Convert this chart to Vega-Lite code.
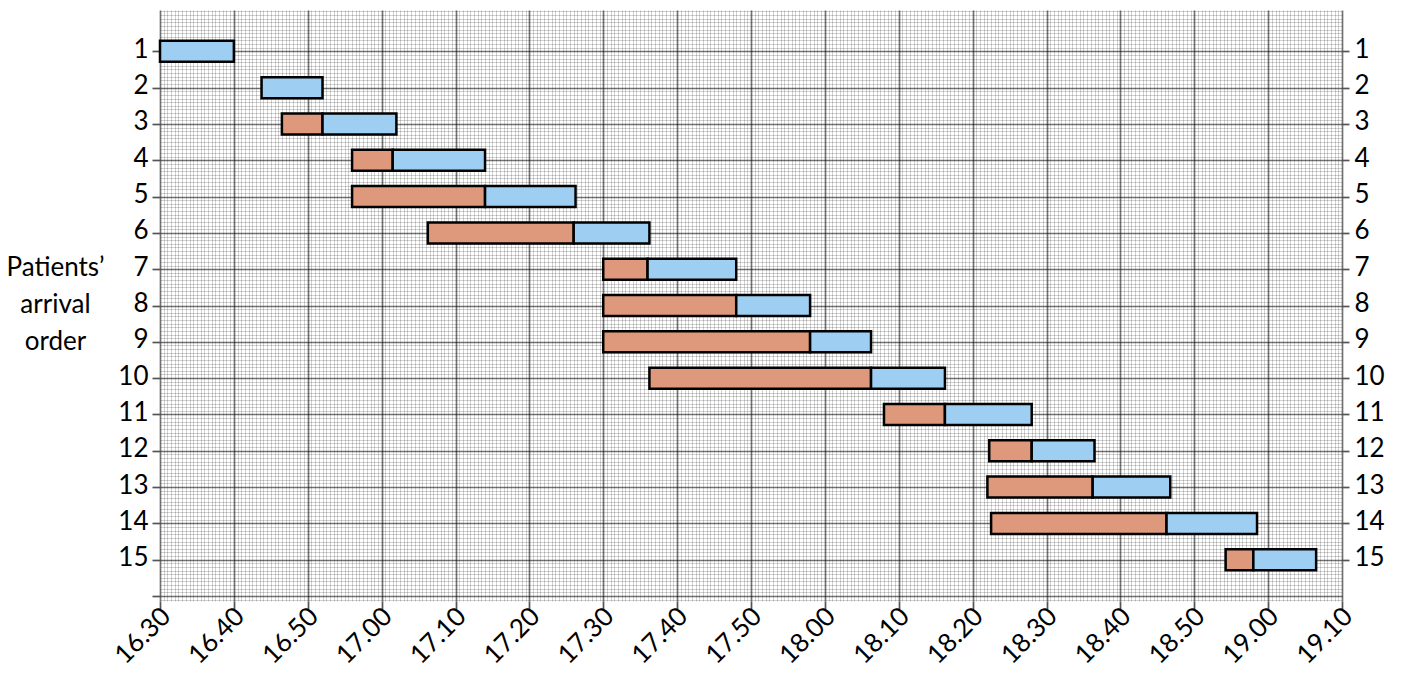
{
  "$schema": "https://vega.github.io/schema/vega-lite/v6.json",
  "autosize": {"type": "none"},
  "padding": {"left": 160, "top": 10, "right": 59, "bottom": 81},
  "width": 1182,
  "height": 591,
  "background": "white",
  "config": {"view": {"stroke": null}},
  "data": {"values": [
    {"patient": 1, "phase": "Consultation", "start": 0, "end": 10},
    {"patient": 2, "phase": "Consultation", "start": 13.75, "end": 22},
    {"patient": 3, "phase": "Waiting", "start": 16.5, "end": 22},
    {"patient": 3, "phase": "Consultation", "start": 22, "end": 32},
    {"patient": 4, "phase": "Waiting", "start": 26, "end": 31.5},
    {"patient": 4, "phase": "Consultation", "start": 31.5, "end": 44},
    {"patient": 5, "phase": "Waiting", "start": 26, "end": 44},
    {"patient": 5, "phase": "Consultation", "start": 44, "end": 56.25},
    {"patient": 6, "phase": "Waiting", "start": 36.25, "end": 56},
    {"patient": 6, "phase": "Consultation", "start": 56, "end": 66.25},
    {"patient": 7, "phase": "Waiting", "start": 60, "end": 66},
    {"patient": 7, "phase": "Consultation", "start": 66, "end": 78},
    {"patient": 8, "phase": "Waiting", "start": 60, "end": 78},
    {"patient": 8, "phase": "Consultation", "start": 78, "end": 88},
    {"patient": 9, "phase": "Waiting", "start": 60, "end": 88},
    {"patient": 9, "phase": "Consultation", "start": 88, "end": 96.25},
    {"patient": 10, "phase": "Waiting", "start": 66.25, "end": 96.25},
    {"patient": 10, "phase": "Consultation", "start": 96.25, "end": 106.25},
    {"patient": 11, "phase": "Waiting", "start": 98, "end": 106.25},
    {"patient": 11, "phase": "Consultation", "start": 106.25, "end": 118},
    {"patient": 12, "phase": "Waiting", "start": 112.25, "end": 118},
    {"patient": 12, "phase": "Consultation", "start": 118, "end": 126.5},
    {"patient": 13, "phase": "Waiting", "start": 112, "end": 126.25},
    {"patient": 13, "phase": "Consultation", "start": 126.25, "end": 136.75},
    {"patient": 14, "phase": "Waiting", "start": 112.5, "end": 136.25},
    {"patient": 14, "phase": "Consultation", "start": 136.25, "end": 148.5},
    {"patient": 15, "phase": "Waiting", "start": 144.25, "end": 148},
    {"patient": 15, "phase": "Consultation", "start": 148, "end": 156.5}
  ]},
  "resolve": {"axis": {"y": "independent"}},
  "layer": [
    {
      "mark": {"type": "bar", "height": 21, "stroke": "black", "strokeWidth": 2.5},
      "encoding": {
        "x": {
          "field": "start", "type": "quantitative",
          "scale": {"domain": [0, 160], "nice": false, "zero": false},
          "axis": {
            "orient": "bottom",
            "title": null,
            "domain": false,
            "tickCount": 320,
            "grid": true,
            "gridColor": {"condition": {"test": "datum.value % 10 === 0", "value": "rgba(0,0,0,0.55)"}, "value": "rgba(0,0,0,0.18)"},
            "gridWidth": {"condition": {"test": "datum.value % 10 === 0", "value": 1.7}, "value": 1},
            "ticks": true,
            "tickSize": 8,
            "tickWidth": 1.7,
            "tickColor": "#555555",
            "tickOpacity": {"condition": {"test": "datum.value % 10 === 0", "value": 1}, "value": 0},
            "labelExpr": "datum.value % 10 === 0 ? (floor((datum.value + 30) / 60) + 16) + '.' + ((datum.value + 30) % 60 < 10 ? '0' : '') + ((datum.value + 30) % 60) : ''",
            "labelOverlap": false,
            "labelBound": false,
            "labelFlush": false,
            "labelAngle": -45,
            "labelAlign": "right",
            "labelBaseline": "middle",
            "labelOffset": 6,
            "labelPadding": 3,
            "labelFont": "Lato",
            "labelFontSize": 26,
            "labelColor": "black"
          }
        },
        "x2": {"field": "end"},
        "y": {
          "field": "patient", "type": "quantitative",
          "scale": {"domain": [0, 16], "reverse": true, "nice": false, "zero": false},
          "axis": {
            "orient": "left",
            "domain": false,
            "tickCount": 160,
            "grid": true,
            "gridColor": {"condition": {"test": "datum.value % 1 === 0 && datum.value > 0", "value": "rgba(0,0,0,0.55)"}, "value": "rgba(0,0,0,0.18)"},
            "gridWidth": {"condition": {"test": "datum.value % 1 === 0 && datum.value > 0", "value": 1.7}, "value": 1},
            "ticks": true,
            "tickSize": 8,
            "tickWidth": 1.7,
            "tickColor": "#555555",
            "tickOpacity": {"condition": {"test": "datum.value % 1 === 0 && datum.value > 0", "value": 1}, "value": 0},
            "labelExpr": "datum.value % 1 === 0 && datum.value >= 1 && datum.value <= 15 ? '' + datum.value : ''",
            "labelOverlap": false,
            "labelBound": false,
            "labelFlush": false,
            "labelPadding": 4,
            "labelOffset": -2,
            "labelFont": "Lato",
            "labelFontSize": 26,
            "labelColor": "black",
            "title": ["Patients’", "arrival", "order"],
            "titleFont": "Lato",
            "titleFontSize": 26,
            "titleFontWeight": "normal",
            "titleColor": "black",
            "titleAngle": 0,
            "titleAlign": "center",
            "titleBaseline": "middle",
            "titleLineHeight": 37,
            "titleX": -105,
            "titleY": 257
          }
        },
        "color": {
          "field": "phase", "type": "nominal",
          "scale": {"domain": ["Waiting", "Consultation"], "range": ["#DE997C", "#9ECFF2"]},
          "legend": null
        }
      }
    },
    {
      "mark": {"type": "point", "opacity": 0},
      "encoding": {
        "y": {
          "field": "patient", "type": "quantitative",
          "scale": {"domain": [0, 16], "reverse": true, "nice": false, "zero": false},
          "axis": {
            "orient": "right",
            "title": null,
            "domain": false,
            "grid": false,
            "values": [1, 2, 3, 4, 5, 6, 7, 8, 9, 10, 11, 12, 13, 14, 15],
            "tickSize": 7,
            "tickWidth": 1.7,
            "tickColor": "#555555",
            "labelPadding": 5,
            "labelOffset": -2,
            "labelFont": "Lato",
            "labelFontSize": 26,
            "labelColor": "black",
            "labelOverlap": false,
            "labelBound": false,
            "labelFlush": false
          }
        }
      }
    }
  ]
}
